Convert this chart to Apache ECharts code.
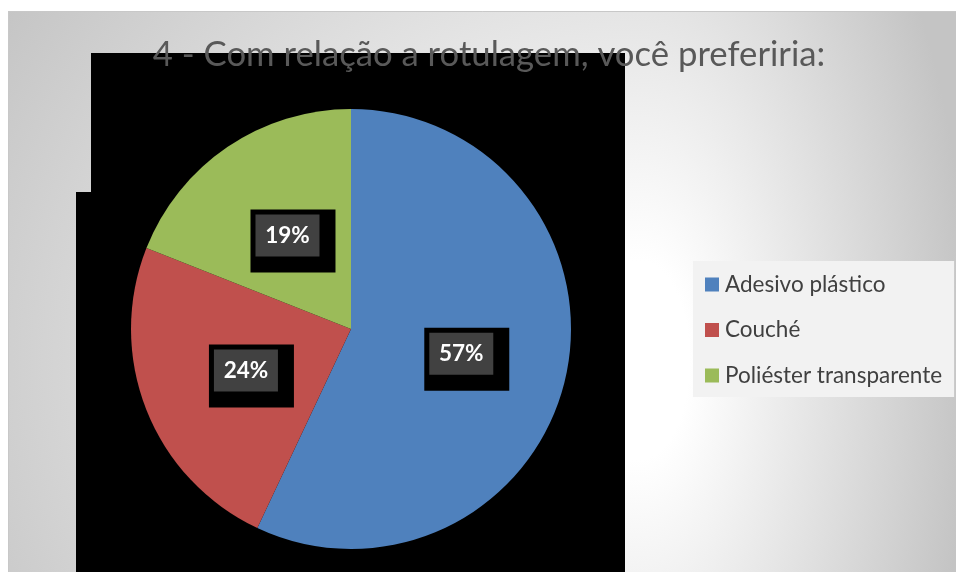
<!DOCTYPE html>
<html>
<head>
<meta charset="utf-8">
<script src="https://cdn.jsdelivr.net/npm/echarts@6/dist/echarts.min.js"></script>
<style>
html,body{margin:0;padding:0;background:#fff;}
#c{width:956px;height:572px;}
</style>
</head>
<body>
<div id="c"></div>
<script>
const titleText = '4 - Com relação a rotulagem, você preferiria:';
const categories = ['Adesivo plástico', 'Couché', 'Poliéster transparente'];
const values = [57, 24, 19];
const colors = ['#4f81bd', '#c0504d', '#9bbb59'];

const stops = [
  { offset: 0, color: '#ffffff' },
  { offset: 0.15, color: '#ffffff' },
  { offset: 1, color: '#c4c4c4' }
];

const chart = echarts.init(document.getElementById('c'));
chart.setOption({
  backgroundColor: '#ffffff',
  animation: false,
  color: colors,
  graphic: [
    {
      type: 'rect', z: -10, silent: true,
      x: 640, y: 360, scaleY: 0.87,
      shape: { x: -632, y: (11 - 360) / 0.87, width: 632, height: (572 - 11) / 0.87 },
      style: { fill: { type: 'radial', x: 0, y: 0, r: 760, global: true, colorStops: stops } }
    },
    {
      type: 'rect', z: -10, silent: true,
      x: 640, y: 360, scaleY: 2,
      shape: { x: -1, y: (11 - 360) / 2, width: 318, height: (572 - 11) / 2 },
      style: { fill: { type: 'radial', x: 0, y: 0, r: 330, global: true, colorStops: stops } }
    },
    {
      type: 'polyline', z: -9, silent: true,
      shape: { points: [[8.5, 572], [8.5, 11.5], [956, 11.5]] },
      style: { stroke: '#c8c8c8', lineWidth: 1, fill: null }
    },
    {
      type: 'polygon', z: -5, silent: true,
      shape: { points: [[91, 53], [625, 53], [625, 572], [76, 572], [76, 192], [91, 192]] },
      style: { fill: '#000000' }
    }
  ],
  title: {
    text: titleText,
    left: 489,
    textAlign: 'center',
    top: 37,
    padding: 0,
    textStyle: { fontFamily: 'Lato', fontWeight: 'normal', fontSize: 34.7, color: '#595959' }
  },
  legend: {
    orient: 'vertical',
    left: 693,
    top: 261,
    padding: [11.5, 12, 9.5, 12],
    backgroundColor: '#f2f2f2',
    itemWidth: 14,
    itemHeight: 14,
    itemGap: 21.5,
    icon: 'rect',
    data: categories,
    textStyle: { fontFamily: 'Lato', fontSize: 22.5, color: '#404040', lineHeight: 24, padding: [0, 0, 0, 1] }
  },
  series: [{
    type: 'pie',
    center: [351, 329],
    radius: 220,
    startAngle: 90,
    clockwise: true,
    data: categories.map((n, i) => ({ name: n, value: values[i] })),
    itemStyle: { borderWidth: 0 },
    label: {
      show: true,
      position: 'inside',
      formatter: p => '{a|' + p.value + '%}',
      backgroundColor: '#000000',
      padding: [5, 16, 16, 5],
      rich: {
        a: {
          backgroundColor: '#414141',
          color: '#ffffff',
          fontFamily: 'Lato',
          fontWeight: 'bold',
          fontSize: 22.5,
          width: 64,
          height: 42,
          lineHeight: 42,
          align: 'center'
        }
      }
    },
    labelLayout: { dx: 5.5, dy: 5.5 },
    labelLine: { show: false },
    emphasis: { disabled: true }
  }]
});
</script>
</body>
</html>
